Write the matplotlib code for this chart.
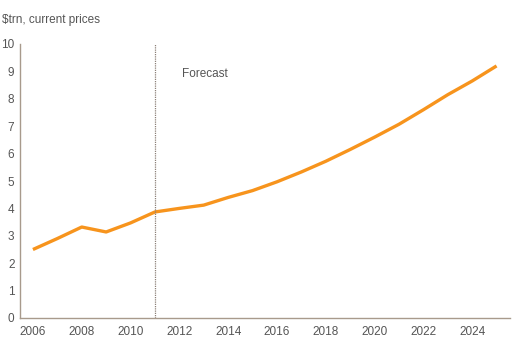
import matplotlib
matplotlib.use("Agg")
import matplotlib.pyplot as plt

plt.rcParams['font.family'] = ['Liberation Sans', 'DejaVu Sans']

# estimated values
years = [2006, 2007, 2008, 2009, 2010, 2011, 2012, 2013, 2014, 2015,
         2016, 2017, 2018, 2019, 2020, 2021, 2022, 2023, 2024, 2025]
values = [2.5, 2.9, 3.32, 3.14, 3.47, 3.87, 4.0, 4.12, 4.4, 4.65,
          4.97, 5.33, 5.72, 6.15, 6.6, 7.07, 7.6, 8.15, 8.65, 9.2]
x_ticks = [2006, 2008, 2010, 2012, 2014, 2016, 2018, 2020, 2022, 2024]
y_ticks = [0, 1, 2, 3, 4, 5, 6, 7, 8, 9, 10]
forecast_year = 2011

fig = plt.figure(figsize=(5.24, 3.38), dpi=100)
ax = fig.add_axes([20 / 524, 1 - 318 / 338, 490 / 524, 274 / 338])

ax.plot(years, values, color='#f7941d', linewidth=2.4, solid_capstyle='butt')
ax.axvline(forecast_year, color='#8c8078', linestyle=(0, (1, 0.8)), linewidth=0.9)
ax.text(2012.1, 8.8, 'Forecast', fontsize=8.5, color='#555555')

ax.set_xlim(2005.47, 2025.55)
ax.set_ylim(0, 10)
ax.set_xticks(x_ticks)
ax.set_yticks(y_ticks)
ax.tick_params(length=0, labelsize=8.5, labelcolor='#555555')
ax.tick_params(axis='x', pad=6)
ax.tick_params(axis='y', pad=4)
for s in ['top', 'right']:
    ax.spines[s].set_visible(False)
for s in ['left', 'bottom']:
    ax.spines[s].set_color('#a89a8c')
    ax.spines[s].set_linewidth(1.0)

fig.text(2 / 524, 1 - 20 / 338, '$trn, current prices', fontsize=8.5,
         color='#555555', va='center', ha='left')

fig.savefig('out.png', dpi=100)
